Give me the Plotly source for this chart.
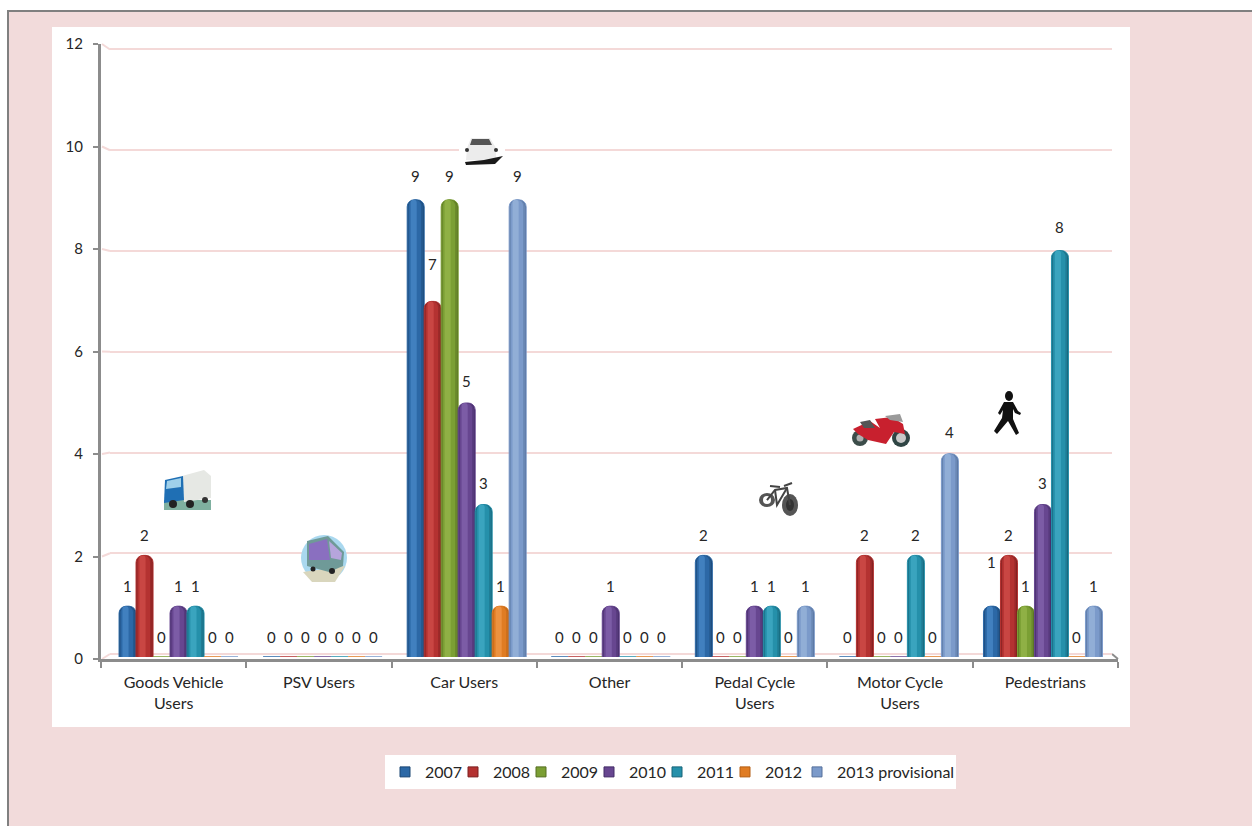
import plotly.graph_objects as go

categories = ["Goods Vehicle<br>Users", "PSV Users", "Car Users", "Other",
              "Pedal Cycle<br>Users", "Motor Cycle<br>Users", "Pedestrians"]
y2007 = [1, 0, 9, 0, 2, 0, 1]
y2008 = [2, 0, 7, 0, 0, 2, 2]
y2009 = [0, 0, 9, 0, 0, 0, 1]
y2010 = [1, 0, 5, 1, 1, 0, 3]
y2011 = [1, 0, 3, 0, 1, 2, 8]
y2012 = [0, 0, 1, 0, 0, 0, 0]
y2013 = [0, 0, 9, 0, 1, 4, 1]
series_names = ["2007", "2008", "2009", "2010", "2011", "2012", "2013 provisional"]
series_values = [y2007, y2008, y2009, y2010, y2011, y2012, y2013]
y_ticks = [0, 2, 4, 6, 8, 10, 12]

dark = ["#1b4673", "#7c1f1f", "#566f22", "#432c66", "#176478", "#b45f14", "#56719b"]
mid = ["#2c68a6", "#b43231", "#7b9f34", "#674690", "#2590aa", "#e07c23", "#7b9aca"]
light = ["#4180bf", "#c94643", "#8fb045", "#7c5ca6", "#3aa4be", "#ec9240", "#91aed6"]

W, H = 1252, 826
FONT = "Lato"
TEXT = "#262626"
PINK = "#f2dbdb"
GRID = "#f4d9d8"
AXIS = "#8c8c8c"


def px(v):
    return v / W


def py(v):
    return 1 - v / H


def blend(a, b, t):
    ca = [int(a[i:i + 2], 16) for i in (1, 3, 5)]
    cb = [int(b[i:i + 2], 16) for i in (1, 3, 5)]
    return "#" + "".join(f"{round(p + (q - p) * t):02x}" for p, q in zip(ca, cb))


def poly(points, fill):
    d = "M" + " L".join(f"{px(a):.5f},{py(b):.5f}" for a, b in points) + " Z"
    return dict(type="path", xref="paper", yref="paper", path=d, fillcolor=fill, line_width=0)


def disc(cx, cy, rx, ry, fill):
    return dict(type="circle", xref="paper", yref="paper", x0=px(cx - rx), x1=px(cx + rx),
                y0=py(cy + ry), y1=py(cy - ry), fillcolor=fill, line_width=0)


def stroke(points, colour, width, layer="above"):
    d = "M" + " L".join(f"{px(a):.5f},{py(b):.5f}" for a, b in points)
    return dict(type="path", xref="paper", yref="paper", path=d, line=dict(color=colour, width=width), layer=layer)


def box(x0, y0, x1, y1, fill, layer="below"):
    return dict(type="rect", xref="paper", yref="paper", x0=px(x0), x1=px(x1), y0=py(y1), y1=py(y0),
                fillcolor=fill, line_width=0, layer=layer)


# Axis geometry, in page pixels
TICK_Y0, TICK_Y12 = 659, 44
GRID_Y0, GRID_Y12 = 654, 49.5
GRID_UNIT = (GRID_Y0 - GRID_Y12) / 12
GRID_PAD = 0.2  # grid axis runs slightly past 0 and 12 so the end gridlines are drawn
AXIS_X0, AXIS_X1 = 101, 1118
GRID_X0, GRID_X1 = 110, 1112

# Background panels
shapes = [
    box(8, 11, W, H, PINK),
    box(52, 27, 1130, 727, "white"),
    box(7, 10, 9, H, "#808080"),
    box(7, 10, W, 12, "#808080"),
]

# The short slanted joins between the tick side and the back wall of the 3-D chart
for t in y_ticks:
    ty = TICK_Y0 + (TICK_Y12 - TICK_Y0) * t / 12
    gy = GRID_Y0 + (GRID_Y12 - GRID_Y0) * t / 12
    shapes.append(stroke([(AXIS_X0 + 1, ty), (GRID_X0, gy)], GRID, 2, "below"))
shapes.append(stroke([(GRID_X1, GRID_Y0), (AXIS_X1, TICK_Y0)], AXIS, 2, "below"))

# Clip-art approximations
truck = [
    poly([(164, 500), (211, 500), (211, 510), (164, 510)], "#7fb0a0"),
    poly([(182, 476), (204, 470), (211, 476), (211, 498), (184, 502)], "#e6e8e4"),
    poly([(165, 480), (183, 476), (184, 500), (164, 503)], "#1f6fb4"),
    poly([(167, 481), (181, 478), (181, 487), (166, 489)], "#9fd0ea"),
    disc(173, 504, 4, 4, "#222222"), disc(190, 504, 4, 4, "#222222"), disc(205, 500, 3, 3, "#333333"),
]
bus = [
    disc(324, 558, 23, 23, "#a9d8ef"),
    poly([(303, 572), (345, 566), (335, 582), (312, 582)], "#d9d6bd"),
    poly([(307, 541), (328, 536), (344, 552), (343, 566), (329, 572), (307, 566)], "#6f9a98"),
    poly([(309, 544), (327, 539), (330, 560), (309, 560)], "#8a6fc0"),
    poly([(329, 541), (342, 553), (341, 560), (331, 558)], "#b6a5dc"),
    disc(313, 569, 2.5, 2.5, "#222222"), disc(332, 571, 3, 3, "#222222"),
]
car = [
    box(459, 136, 505, 165, "white", "above"),
    poly([(467, 148), (471, 138), (490, 138), (496, 148), (496, 160), (466, 160)], "#ececec"),
    poly([(472, 139), (489, 139), (492, 145), (470, 145)], "#555555"),
    poly([(465, 162), (484, 160), (503, 156), (495, 164), (466, 165)], "#1a1a1a"),
    disc(467, 150, 2, 2, "#333333"), disc(496, 150, 2, 2, "#333333"),
]
bike = [
    disc(767, 500, 8, 7, "#555555"), disc(767, 500, 4, 4, "white"),
    disc(790, 505, 8, 11, "#555555"), disc(790, 505, 4, 6, "#333333"),
    stroke([(767, 500), (775, 490), (787, 488), (790, 505)], "#444444", 2),
    stroke([(775, 490), (777, 505), (787, 488)], "#444444", 2),
    stroke([(770, 486), (780, 487)], "#444444", 2),
    stroke([(784, 486), (792, 483)], "#444444", 2),
]
motorcycle = [
    disc(860, 438, 8, 8, "#3c4d4a"), disc(860, 438, 3.5, 3.5, "#b0b0b0"),
    disc(901, 438, 9, 9, "#2f4544"), disc(901, 438, 5, 5, "#c8c8c8"),
    poly([(853, 429), (870, 421), (880, 428), (875, 419), (892, 417), (903, 424), (905, 434),
          (894, 432), (886, 444), (868, 440), (858, 434)], "#c8202e"),
    poly([(885, 416), (900, 414), (903, 422), (890, 420)], "#9a9a9a"),
    poly([(860, 422), (870, 420), (875, 428), (864, 428)], "#555555"),
]
walker = [
    disc(1009, 396, 4, 5, "#111111"),
    poly([(1004, 402), (1013, 402), (1018, 411), (1021, 413), (1020, 415), (1015, 413), (1013, 409),
          (1013, 419), (1019, 433), (1016, 435), (1008, 421), (997, 434), (994, 431), (1002, 418),
          (1003, 410), (1000, 415), (998, 413)], "#111111"),
]
shapes += truck + bus + car + bike + motorcycle + walker

BAR_PX = 17.0
UNIT_PX = 144.1
w_unit = BAR_PX / UNIT_PX

fig = go.Figure()

# Hidden carriers so the tick axis and grid axis get drawn, beneath the bars
fig.add_trace(go.Bar(x=categories, y=[0] * 7, xaxis="x", yaxis="y", marker_opacity=0,
                     showlegend=False, hoverinfo="skip"))
fig.add_trace(go.Scatter(x=[0, 1], y=[0, 12], xaxis="x2", yaxis="y2", mode="markers",
                         marker_opacity=0, showlegend=False, hoverinfo="skip"))

legend_widths = {5: 27, 6: 114}
for s, (name, vals) in enumerate(zip(series_names, series_values)):
    off = (s - 3.5) * w_unit
    # (share of the bar width, start within the bar, colour): layered to mimic a cylinder
    layers = [
        (1.0, 0.0, dark[s]),
        (0.88, 0.05, blend(dark[s], mid[s], 0.55)),
        (0.72, 0.1, mid[s]),
        (0.36, 0.2, light[s]),
    ]
    for k, (share, start, colour) in enumerate(layers):
        fig.add_trace(go.Bar(x=categories, y=vals, name=name, xaxis="x3", yaxis="y3", legendgroup=name,
                             showlegend=False, width=w_unit * share, offset=off + w_unit * start,
                             marker=dict(color=colour, line=dict(color=mid[s], width=1 if k == 0 else 0))))
    # Legend key: a square swatch, as in the original
    fig.add_trace(go.Scatter(x=[None], y=[None], name=name, xaxis="x3", yaxis="y3", legendgroup=name,
                             mode="markers", showlegend=True, legendwidth=legend_widths.get(s),
                             marker=dict(symbol="square", size=10, color=mid[s],
                                         line=dict(color=dark[s], width=1))))

# Data labels follow the front axis scale; two were moved by hand in the original
extra_shift = {(0, 6): 24, (1, 2): 14}
annotations = []
for s, vals in enumerate(series_values):
    for c, v in enumerate(vals):
        annotations.append(dict(x=categories[c], y=v, xref="x3", yref="y", text=str(v), showarrow=False,
                                xshift=(s - 3) * BAR_PX, yshift=22 + extra_shift.get((s, c), 0),
                                font=dict(family=FONT, size=15, color=TEXT)))

fig.update_layout(
    width=W, height=H, margin=dict(l=0, r=0, t=0, b=0, pad=0), autosize=False,
    paper_bgcolor="white", plot_bgcolor="rgba(0,0,0,0)",
    barmode="overlay", barcornerradius=7,
    shapes=shapes, annotations=annotations,
    showlegend=True,
    legend=dict(orientation="h", x=px(385), y=py(755), xanchor="left", yanchor="top",
                bgcolor="white", borderwidth=0, entrywidth=23, entrywidthmode="pixels",
                traceorder="normal", font=dict(family=FONT, size=16, color=TEXT),
                itemclick=False, itemdoubleclick=False),
    xaxis=dict(domain=[px(AXIS_X0), px(AXIS_X1)], type="category", categoryorder="array",
               categoryarray=categories, range=[-0.5, 6.5], anchor="y", tickson="boundaries",
               ticks="outside", ticklen=6, tickwidth=2, tickcolor=AXIS, showline=True,
               linecolor=AXIS, linewidth=3, showgrid=False, automargin=False, tickangle=0,
               ticklabelstandoff=7, tickfont=dict(family=FONT, size=16, color=TEXT), fixedrange=True),
    yaxis=dict(domain=[py(TICK_Y0), py(TICK_Y12)], range=[0, 12], tickvals=y_ticks, anchor="x",
               ticks="outside", ticklen=5, tickwidth=2, tickcolor=AXIS, showline=True, linecolor=AXIS,
               linewidth=3, showgrid=False, zeroline=False, automargin=False, ticklabelstandoff=7,
               tickfont=dict(family=FONT, size=15, color=TEXT), fixedrange=True),
    xaxis2=dict(domain=[px(GRID_X0), px(GRID_X1)], range=[0, 1], anchor="y2", visible=False, fixedrange=True),
    yaxis2=dict(domain=[py(GRID_Y0 + GRID_PAD * GRID_UNIT), py(GRID_Y12 - GRID_PAD * GRID_UNIT)],
                range=[-GRID_PAD, 12 + GRID_PAD], tickvals=y_ticks, anchor="x2", showgrid=True,
                gridcolor=GRID, gridwidth=2, zeroline=False, showline=False, showticklabels=False,
                ticks="", fixedrange=True),
    xaxis3=dict(domain=[px(106.5), px(1115)], type="category", categoryorder="array",
                categoryarray=categories, range=[-0.5, 6.5], anchor="y3", visible=False, fixedrange=True),
    yaxis3=dict(domain=[py(657), py(47.4)], range=[0, 12], anchor="x3", visible=False, fixedrange=True),
)

fig.write_html("out.html", config=dict(displayModeBar=False),
               post_script="document.body.style.margin='0';document.body.style.overflow='hidden';")
